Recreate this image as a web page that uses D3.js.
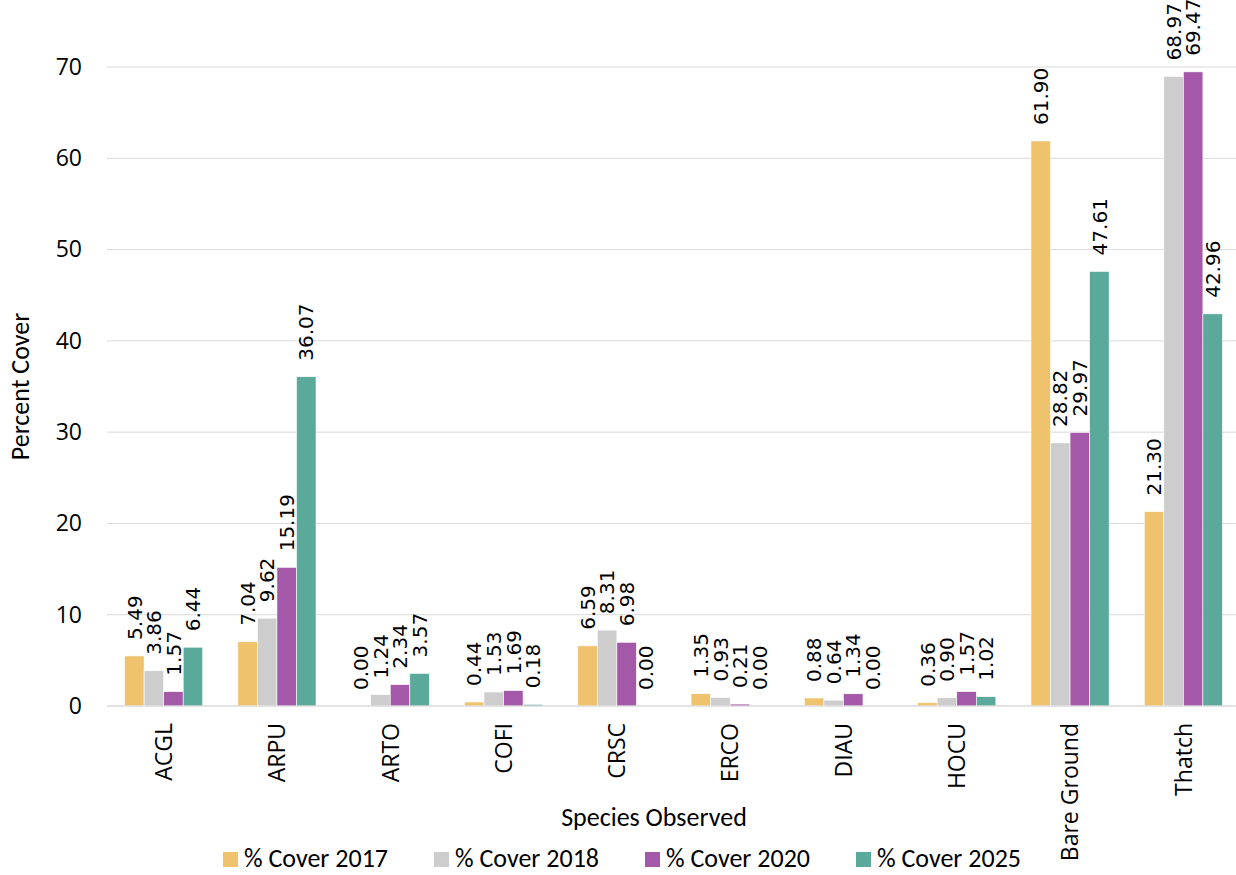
<!DOCTYPE html>
<html>
<head>
<meta charset="utf-8">
<script src="https://cdn.jsdelivr.net/npm/d3@7"></script>
<style>
  body { margin: 0; background: #fff; }
</style>
</head>
<body>
<div id="chart"></div>
<script>
const species = ["ACGL", "ARPU", "ARTO", "COFI", "CRSC", "ERCO", "DIAU", "HOCU", "Bare Ground", "Thatch"];
const seriesNames = ["% Cover 2017", "% Cover 2018", "% Cover 2020", "% Cover 2025"];
const cover2017 = [5.49, 7.04, 0.00, 0.44, 6.59, 1.35, 0.88, 0.36, 61.90, 21.30];
const cover2018 = [3.86, 9.62, 1.24, 1.53, 8.31, 0.93, 0.64, 0.90, 28.82, 68.97];
const cover2020 = [1.57, 15.19, 2.34, 1.69, 6.98, 0.21, 1.34, 1.57, 29.97, 69.47];
const cover2025 = [6.44, 36.07, 3.57, 0.18, 0.00, 0.00, 0.00, 1.02, 47.61, 42.96];
const yTicks = [0, 10, 20, 30, 40, 50, 60, 70];
const colors = ["#EFC36E", "#CDCDCD", "#A459A8", "#5AA99A"];

const allSeries = [cover2017, cover2018, cover2020, cover2025];
const data = species.map((s, i) => ({
  name: s,
  values: allSeries.map((arr, k) => ({ key: seriesNames[k], value: arr[i], k: k }))
}));

const W = 1236, H = 875;
const margin = { top: 67, right: -4, bottom: 169, left: 107 };
const width = W - margin.left - margin.right,
  height = H - margin.top - margin.bottom;

const labelFont = "Carlito, Calibri, Lato, sans-serif";
const tickFont = "'Open Sans', sans-serif";

const svg = d3.select("#chart")
  .append("svg")
  .attr("width", W)
  .attr("height", H)
  .style("font-family", tickFont);

const g = svg.append("g")
  .attr("transform", "translate(" + margin.left + "," + margin.top + ")");

const x0 = d3.scaleBand()
  .domain(species)
  .range([0, width])
  .paddingInner(0.31)
  .paddingOuter(0.155);

const x1 = d3.scaleBand()
  .domain(seriesNames)
  .range([0, x0.bandwidth()]);

const y = d3.scaleLinear()
  .domain([0, 70])
  .range([height, 0]);

// gridlines
g.append("g")
  .selectAll("line")
  .data(yTicks)
  .enter()
  .append("line")
  .attr("x1", 0)
  .attr("x2", width)
  .attr("y1", d => y(d))
  .attr("y2", d => y(d))
  .attr("stroke", "#D9D9D9")
  .attr("stroke-width", 1);

// y axis labels
const yAxis = g.append("g")
  .call(d3.axisLeft(y).tickValues(yTicks).tickSize(0).tickPadding(25));
yAxis.select(".domain").remove();
yAxis.selectAll("text")
  .style("font-family", tickFont)
  .style("font-size", "23px")
  .attr("fill", "#000");

// bars
const groups = g.append("g")
  .selectAll("g")
  .data(data)
  .enter()
  .append("g")
  .attr("transform", d => "translate(" + x0(d.name) + ",0)");

groups.selectAll("rect")
  .data(d => d.values)
  .enter()
  .append("rect")
  .attr("x", d => x1(d.key))
  .attr("width", x1.bandwidth())
  .attr("y", d => y(d.value))
  .attr("height", d => height - y(d.value))
  .attr("fill", d => colors[d.k])
  .attr("stroke", "#fff")
  .attr("stroke-width", 0.6);

// value labels
groups.selectAll("text")
  .data(d => d.values)
  .enter()
  .append("text")
  .attr("transform", d => "translate(" + (x1(d.key) + x1.bandwidth() / 2) + "," + (y(d.value) - 16) + ") rotate(-90)")
  .attr("dy", "0.36em")
  .style("font-family", "'DejaVu Sans', sans-serif")
  .style("font-size", "20px")
  .attr("fill", "#000")
  .text(d => d.value.toFixed(2));

// baseline
g.append("line")
  .attr("x1", 0)
  .attr("x2", width)
  .attr("y1", height)
  .attr("y2", height)
  .attr("stroke", "#D9D9D9");

// category labels
g.append("g")
  .selectAll("text")
  .data(species)
  .enter()
  .append("text")
  .attr("transform", d => "translate(" + (x0(d) + x0.bandwidth() / 2) + "," + (height + 17) + ") rotate(-90)")
  .attr("dy", "0.36em")
  .style("text-anchor", "end")
  .style("font-family", tickFont)
  .style("font-size", "23px")
  .text(d => d);

// axis titles
svg.append("text")
  .attr("transform", "translate(29," + (margin.top + height / 2) + ") rotate(-90)")
  .style("text-anchor", "middle")
  .style("font-family", labelFont)
  .style("font-size", "26px")
  .text("Percent Cover");

svg.append("text")
  .attr("x", 654)
  .attr("y", 826)
  .style("text-anchor", "middle")
  .style("font-family", labelFont)
  .style("font-size", "26px")
  .text("Species Observed");

// legend
const legend = svg.append("g")
  .selectAll("g")
  .data(seriesNames)
  .enter()
  .append("g")
  .attr("transform", (d, i) => "translate(" + (223 + i * 211) + ",852)");

legend.append("rect")
  .attr("width", 15)
  .attr("height", 15)
  .attr("fill", (d, i) => colors[i]);

legend.append("text")
  .attr("x", 21)
  .attr("y", 15)
  .style("font-family", labelFont)
  .style("font-size", "26px")
  .text(d => d);
</script>
</body>
</html>
